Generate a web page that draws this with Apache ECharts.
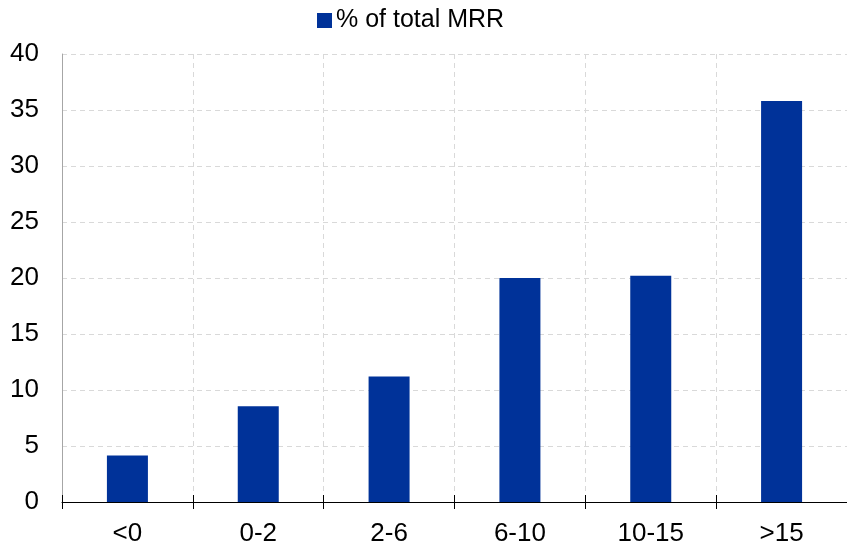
<!DOCTYPE html>
<html>
<head>
<meta charset="utf-8">
<script src="https://cdn.jsdelivr.net/npm/echarts@6/dist/echarts.min.js"></script>
<style>
html,body{margin:0;padding:0;background:#fff;}
#chart{width:847px;height:552px;}
</style>
</head>
<body>
<div id="chart"></div>
<script>
var categories = ['<0', '0-2', '2-6', '6-10', '10-15', '>15'];
var mrrShare = [4.15, 8.55, 11.2, 20.0, 20.2, 35.8];
var seriesName = '% of total MRR';

var chart = echarts.init(document.getElementById('chart'));
var font = 'Liberation Sans, Arial, sans-serif';
chart.setOption({
  animation: false,
  textStyle: {fontFamily: font},
  legend: {
    top: 8,
    left: 317,
    padding: 0,
    data: [seriesName],
    icon: 'rect',
    itemWidth: 15,
    itemHeight: 15,
    itemGap: 4,
    textStyle: {fontFamily: font, fontSize: 25, color: '#000', padding: [0,0,0,-1]}
  },
  grid: {left: 62, right: -1, top: 54, bottom: 50, containLabel: false},
  xAxis: [{
    type: 'category',
    data: categories,
    boundaryGap: true,
    axisLine: {lineStyle: {color: '#000', width: 1}},
    axisTick: {show: true, length: 7, lineStyle: {color: '#000'}},
    axisLabel: {fontFamily: font, fontSize: 26, color: '#000', margin: 19},
    splitLine: {show: true, lineStyle: {color: '#d9d9d9', type: [5, 4]}}
  }, {
    type: 'category',
    data: categories,
    position: 'bottom',
    boundaryGap: true,
    axisLine: {show: false},
    axisTick: {show: true, inside: true, length: 7, lineStyle: {color: '#000'}},
    axisLabel: {show: false},
    splitLine: {show: false}
  }],
  yAxis: {
    type: 'value',
    min: 0,
    max: 40,
    interval: 5,
    axisLine: {show: true, lineStyle: {color: '#a6a6a6'}},
    axisTick: {show: false},
    axisLabel: {fontFamily: font, fontSize: 26, color: '#000', margin: 23},
    splitLine: {show: true, lineStyle: {color: '#d9d9d9', type: [5, 4]}}
  },
  series: [{
    name: seriesName,
    type: 'bar',
    data: mrrShare,
    barWidth: 41,
    itemStyle: {color: '#003299'}
  }]
});
</script>
</body>
</html>
